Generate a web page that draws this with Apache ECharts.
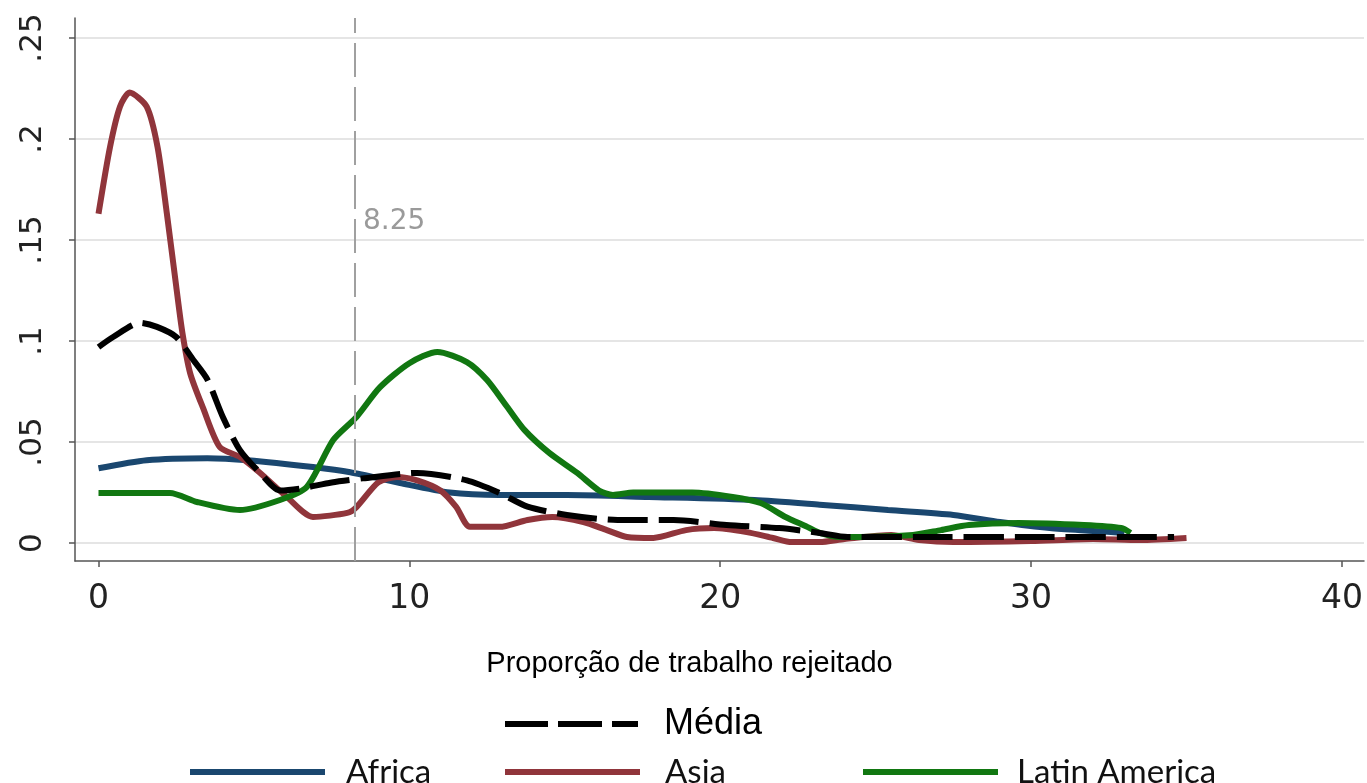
<!DOCTYPE html>
<html>
<head>
<meta charset="utf-8">
<script src="https://cdn.jsdelivr.net/npm/echarts@6/dist/echarts.min.js"></script>
<style>html,body{margin:0;padding:0;background:#fff}#c{width:1367px;height:783px}</style>
</head>
<body>
<div id="c"></div>
<script>
// ---- data ----
const xTickValues = [0, 10, 20, 30, 40];
const yTickValues = [0, 0.05, 0.1, 0.15, 0.2, 0.25];
const yTickLabels = ['0', '.05', '.1', '.15', '.2', '.25'];
const seriesNames = ['Africa', 'Asia', 'Latin America', 'Média'];
const refLineX = 8.25;
const refLabelY = 0.159;

const africaX = [0, 1.55, 3.5, 4.8, 6.9, 8.1, 9.7, 11.3, 12.9, 15.07, 17.7, 21.1, 23.2, 25.4, 27.5, 29.0, 30.6, 32, 33];
const africaY = [0.037, 0.041, 0.042, 0.041, 0.0376, 0.035, 0.0297, 0.025, 0.0238, 0.0238, 0.0228, 0.0213, 0.019, 0.0163, 0.0139, 0.0104, 0.0074, 0.006, 0.005];

const asiaX = [0, 0.37, 0.69, 1.0, 1.55, 1.9, 2.2, 2.5, 2.7, 2.95, 3.36, 3.9, 4.55, 5.2, 6.06, 6.9, 8.0, 8.3, 9.0, 9.6, 10.25, 11.0, 11.5, 11.95, 12.9, 13.8, 14.6, 15.6, 16.35, 17.0, 17.85, 18.9, 19.8, 20.85, 21.7, 22.3, 23.2, 24.0, 25.5, 26.4, 27.5, 30, 32, 33.5, 35];
const asiaY = [0.163, 0.196, 0.216, 0.223, 0.216, 0.196, 0.163, 0.127, 0.104, 0.084, 0.067, 0.0475, 0.0426, 0.0347, 0.0228, 0.0129, 0.0149, 0.0178, 0.030, 0.0327, 0.031, 0.026, 0.018, 0.008, 0.008, 0.0114, 0.0129, 0.0104, 0.0064, 0.003, 0.0025, 0.0064, 0.0074, 0.0054, 0.0025, 0.0005, 0.0005, 0.002, 0.004, 0.0015, 0.0005, 0.001, 0.002, 0.0015, 0.0025];

const latinX = [0, 2.3, 3.17, 4.55, 5.84, 6.7, 7.55, 8.3, 9.05, 10.0, 10.9, 11.85, 12.5, 13.15, 13.7, 14.5, 15.4, 16.1, 16.55, 17.2, 19.1, 20.4, 21.3, 22.1, 22.8, 23.2, 23.85, 26.2, 27.1, 28.0, 29.6, 31.7, 32.9, 33.2];
const latinY = [0.0248, 0.0248, 0.0203, 0.0163, 0.0213, 0.0277, 0.051, 0.0624, 0.077, 0.089, 0.0946, 0.0896, 0.0807, 0.0673, 0.056, 0.0446, 0.0347, 0.026, 0.0238, 0.025, 0.025, 0.0228, 0.0198, 0.0129, 0.008, 0.005, 0.003, 0.004, 0.0064, 0.0089, 0.0099, 0.0089, 0.0074, 0.005];

const mediaX = [0, 0.47, 1.34, 1.88, 2.5, 3.05, 3.5, 4.0, 4.55, 5.2, 5.84, 6.5, 7.5, 8.5, 10.25, 11.85, 12.9, 13.8, 15.07, 16.7, 18.5, 20.2, 21.9, 23.2, 24.1, 27, 30, 33, 34.6];
const mediaY = [0.097, 0.102, 0.109, 0.107, 0.102, 0.0906, 0.081, 0.0624, 0.046, 0.0347, 0.026, 0.027, 0.030, 0.032, 0.0347, 0.031, 0.0248, 0.018, 0.0139, 0.0114, 0.0114, 0.0089, 0.0074, 0.005, 0.003, 0.003, 0.003, 0.003, 0.003];

const pair = (xs, ys) => xs.map((x, i) => [x, ys[i]]);

const chart = echarts.init(document.getElementById('c'), null, {renderer: 'canvas'});
const lineW = 6;
const mk = (name, xs, ys, color, type) => ({
  name: name, type: 'line', data: pair(xs, ys), symbol: 'none', smooth: 0.25,
  lineStyle: {color: color, width: lineW, type: type || 'solid'},
  itemStyle: {color: color}, silent: true
});

const sAfrica = mk(seriesNames[0], africaX, africaY, '#1a476f');
sAfrica.markLine = {
  silent: true, symbol: 'none', label: {show: false},
  lineStyle: {color: '#a0a0a0', width: 2, type: [34, 10]},
  data: [{xAxis: refLineX}]
};
sAfrica.markPoint = {
  silent: true, symbol: 'circle', symbolSize: 2, itemStyle: {color: 'rgba(255,255,255,0)'},
  label: {show: true, position: 'right', distance: 7, formatter: String(refLineX), color: '#9a9a9a', fontSize: 28, fontFamily: 'DejaVu Sans'},
  data: [{coord: [refLineX, refLabelY]}]
};

const dashIcon = 'path://M0,0h43v6h-43zM53,0h44v6h-44zM107,0h26v6h-26z';

const option = {
  animation: false,
  backgroundColor: '#ffffff',
  grid: {left: 75, right: 3, top: 18, bottom: 222, containLabel: false},
  xAxis: {
    type: 'value', min: -0.756, max: 40.71,
    axisLine: {show: true, onZero: false, lineStyle: {color: '#555', width: 1.5}},
    axisTick: {show: true, length: 6, customValues: xTickValues, lineStyle: {color: '#555', width: 1.5}},
    axisLabel: {customValues: xTickValues, fontSize: 33, fontFamily: 'DejaVu Sans', color: '#222', margin: 22},
    splitLine: {show: false},
    name: 'Proporção de trabalho rejeitado', nameLocation: 'middle', nameGap: 88,
    nameTextStyle: {fontSize: 29, fontFamily: 'Liberation Sans', color: '#000', padding: [0, 60, 0, 0]}
  },
  yAxis: {
    type: 'value', min: -0.0089, max: 0.2599,
    axisLine: {show: true, onZero: false, lineStyle: {color: '#555', width: 1.5}},
    axisTick: {show: true, length: 6, customValues: yTickValues, lineStyle: {color: '#555', width: 1.5}},
    axisLabel: {
      customValues: yTickValues, rotate: 90, fontSize: 31, fontFamily: 'DejaVu Sans', color: '#222', margin: 27,
      formatter: v => { const i = yTickValues.findIndex(t => Math.abs(t - v) < 1e-9); return i >= 0 ? yTickLabels[i] : ''; }
    },
    splitLine: {show: true, lineStyle: {color: '#dcdcdc', width: 1.5}}
  },
  legend: [
    {data: [{name: seriesNames[3], icon: dashIcon}], left: 500, top: 701, itemWidth: 133, itemHeight: 6, itemGap: 0,
      textStyle: {fontSize: 36, fontFamily: 'Liberation Sans', color: '#000', lineHeight: 36, padding: [0, 0, 0, 21]}},
    {data: [{name: seriesNames[0], icon: 'rect'}], left: 185, top: 748, itemWidth: 135, itemHeight: 6, itemGap: 0,
      textStyle: {fontSize: 33, fontFamily: 'Lato', color: '#111', lineHeight: 38, padding: [0, 0, 0, 16]}},
    {data: [{name: seriesNames[1], icon: 'rect'}], left: 500, top: 748, itemWidth: 135, itemHeight: 6, itemGap: 0,
      textStyle: {fontSize: 33, fontFamily: 'Lato', color: '#111', lineHeight: 38, padding: [0, 0, 0, 20]}},
    {data: [{name: seriesNames[2], icon: 'rect'}], left: 858, top: 748, itemWidth: 135, itemHeight: 6, itemGap: 0,
      textStyle: {fontSize: 33, fontFamily: 'Lato', color: '#111', lineHeight: 38, padding: [0, 0, 0, 14]}}
  ],
  series: [
    sAfrica,
    mk(seriesNames[1], asiaX, asiaY, '#90353b'),
    mk(seriesNames[2], latinX, latinY, '#117711'),
    mk(seriesNames[3], mediaX, mediaY, '#000000', [40, 11])
  ]
};
chart.setOption(option);
</script>
</body>
</html>
